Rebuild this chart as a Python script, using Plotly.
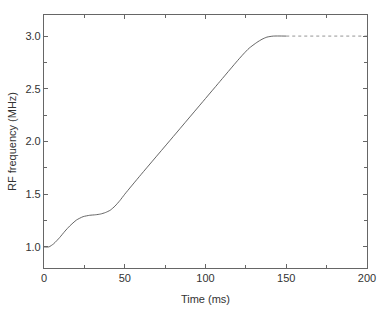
import plotly.graph_objects as go

# Read-off points of the RF frequency ramp (solid part)
time_ms = [0, 3, 6, 9.7, 13, 15.9, 20.1, 24.2, 28.3, 32, 35, 38, 41, 44, 47,
           50, 60, 80, 100, 107.9, 120, 123.5, 127, 131.8, 135, 138, 142, 150]
freq_mhz = [1.0, 1.0, 1.03, 1.089, 1.15, 1.198, 1.255, 1.287, 1.30, 1.305, 1.312, 1.326, 1.348, 1.388, 1.44,
            1.50, 1.685, 2.046, 2.408, 2.551, 2.77, 2.83, 2.885, 2.94, 2.97, 2.99, 3.0, 3.0]

# Dotted hold segment
hold_time = [150, 200]
hold_freq = [3.0, 3.0]

x_ticks = [0, 50, 100, 150, 200]
y_ticks = [1.0, 1.5, 2.0, 2.5, 3.0]
y_ticklabels = ["1.0", "1.5", "2.0", "2.5", "3.0"]

line_color = "#555555"
axis_color = "#666666"
text_color = "#333333"
font_family = "Liberation Sans, Arial, sans-serif"

fig = go.Figure()
fig.add_trace(go.Scatter(x=time_ms, y=freq_mhz, mode="lines",
                         line=dict(color=line_color, width=0.9, shape="spline", smoothing=0.6),
                         showlegend=False, hoverinfo="skip"))
fig.add_trace(go.Scatter(x=hold_time, y=hold_freq, mode="lines",
                         line=dict(color="#888888", width=0.9, dash="dot"),
                         showlegend=False, hoverinfo="skip"))

axis_common = dict(
    showline=True, linecolor=axis_color, linewidth=1.2, mirror="allticks",
    ticks="inside", ticklen=4, tickwidth=1, tickcolor=axis_color,
    showgrid=False, zeroline=False, automargin=False,
    tickfont=dict(family=font_family, size=11, color=text_color),
)

fig.update_xaxes(range=[0, 200], tickvals=x_ticks,
                 minor=dict(tickvals=[25, 75, 125, 175], ticks="inside", ticklen=2.5, tickcolor=axis_color),
                 title=dict(text="Time (ms)", standoff=12,
                            font=dict(family=font_family, size=11, color=text_color)),
                 **axis_common)
fig.update_yaxes(range=[0.8, 3.2], tickvals=y_ticks, ticktext=y_ticklabels,
                 minor=dict(tickvals=[1.25, 1.75, 2.25, 2.75], ticks="inside", ticklen=2.5, tickcolor=axis_color),
                 title=dict(text="RF frequency (MHz)", standoff=6,
                            font=dict(family=font_family, size=11, color=text_color)),
                 **axis_common)

fig.update_layout(width=382, height=316,
                  margin=dict(l=44, r=15, t=15, b=48),
                  paper_bgcolor="white", plot_bgcolor="white")

fig.write_html("out.html", config={"displayModeBar": False},
               post_script="document.body.style.margin='0';document.body.style.padding='0';")
